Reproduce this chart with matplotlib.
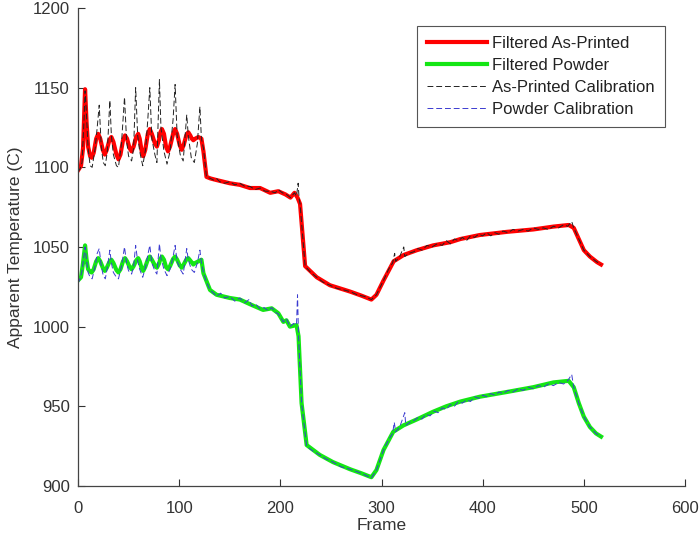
import matplotlib
matplotlib.use("Agg")
import matplotlib.pyplot as plt

# filtered as-printed (frame, temperature)
red_frames = [0, 3, 5, 7, 8.5, 10, 12, 13.5, 15.5, 18, 20, 22, 24.5, 26.5, 28.5, 31, 33, 35, 38,
              40, 42, 44.5, 46.5, 48.5, 51, 53, 55, 57.5, 59.5, 61, 63, 64.5, 66.5, 69, 71, 73,
              76, 78, 80, 81.5, 83, 85, 87, 89, 91, 94, 96, 98, 100.5, 102.5, 104.5, 107, 109,
              111, 112.5, 114, 116, 119, 122, 124, 127, 131, 137, 150, 160, 170, 180, 190, 198,
              205, 210, 214, 217, 219.5, 224.5, 236, 249, 269, 280, 290, 295, 302, 312, 322, 335,
              351, 368, 378, 397, 424, 450, 470, 485, 490, 495, 500, 506, 513, 517]
red_temps = [1098, 1101, 1112, 1149, 1128, 1113, 1107, 1106, 1109, 1118, 1121, 1118, 1111, 1108,
             1111, 1117, 1119, 1116, 1108, 1105, 1108, 1117, 1120, 1118, 1112, 1110, 1113, 1119,
             1121, 1118, 1110, 1107, 1111, 1121, 1124, 1121, 1115, 1113, 1117, 1122, 1124, 1121,
             1113, 1110, 1113, 1121, 1124, 1121, 1114, 1111, 1114, 1120, 1122, 1120, 1118, 1117,
             1118, 1119, 1118, 1110, 1094, 1093, 1092, 1090, 1089, 1087, 1087, 1084, 1085, 1083,
             1081, 1084, 1081, 1077, 1038, 1031, 1026, 1022, 1019.5, 1017, 1020, 1029, 1041,
             1045, 1048, 1051, 1053, 1055, 1057.5, 1059.5, 1061, 1062.8, 1063.8, 1062, 1055,
             1048, 1044, 1040.5, 1039]

# filtered powder
green_frames = [0, 3, 5, 7, 8.5, 10, 12, 13.5, 15.5, 18, 20, 22, 24.5, 26.5, 28.5, 31, 33, 35, 38,
                40, 42, 44.5, 46.5, 48.5, 51, 53, 55, 57.5, 59.5, 61, 63, 64.5, 66.5, 69, 71, 73,
                76, 78, 80, 81.5, 83, 85, 87, 89, 91, 94, 96, 98, 100.5, 102.5, 104.5, 107, 109,
                111, 114, 116, 119, 122, 124, 130.5, 137, 150, 160, 171.7, 183, 191.5, 198, 203,
                206, 209.5, 216, 218, 221, 226, 239, 252, 269, 280, 290, 295, 302, 311.6, 321.6,
                335, 351, 364, 378, 397, 424, 450, 470, 485, 490, 495, 500, 506, 512, 517]
green_temps = [1029, 1031, 1040, 1051, 1042, 1036, 1034.5, 1034, 1036, 1041, 1043, 1041, 1037, 1035,
               1037, 1040.5, 1042, 1040, 1035.5, 1034, 1036, 1041, 1043, 1041, 1037.5, 1036, 1038,
               1041.5, 1043, 1041, 1036.5, 1035, 1037.5, 1042, 1044, 1042, 1038.5, 1037, 1039.5,
               1042.5, 1044, 1042, 1037.5, 1036, 1038, 1042.5, 1044, 1042, 1038.5, 1037, 1039,
               1042, 1043, 1041.5, 1039, 1040, 1041, 1042, 1033.5, 1023, 1020, 1018, 1017, 1013.6,
               1010.5, 1011.5, 1008.4, 1003, 1004, 1000, 1001, 994, 952, 925.7, 919.5, 915, 910.5,
               908, 905.5, 910, 922.6, 934, 938, 941.8, 946.6, 950, 953, 956, 959, 962, 965, 966,
               962, 952, 943.5, 937, 933, 931]

# as-printed calibration
black_frames = [0, 2, 4, 6, 7, 8, 10, 12, 14, 17, 19, 21, 23, 25, 27, 29, 31.5, 33, 35, 38, 40, 43,
                46, 48, 50, 53, 55, 57, 59, 61, 64, 67, 69, 71, 73, 76, 78, 80.5, 82, 85, 88, 91,
                94, 96, 98, 101, 104, 107.5, 109, 112, 115, 118, 120.5, 122, 124, 127, 131, 134,
                137, 140, 145, 150, 155, 160, 165, 170, 175, 180, 185, 190, 195, 198, 202, 206,
                210, 214, 216, 217.6, 218.5, 219.5, 224.5, 230, 236, 242, 249, 256, 263, 269, 276,
                283, 290, 295, 302, 307, 311, 313, 314, 318, 322, 323, 327, 332, 336, 340, 345,
                350, 355, 360, 364, 368, 372, 376, 380, 384, 388, 392, 396, 400, 404, 408, 412,
                416, 420, 425, 430, 435, 440, 445, 450, 455, 460, 465, 470, 475, 480, 484, 488,
                490, 495, 500, 506, 512, 517]
black_temps = [1097, 1099, 1103, 1130, 1148, 1138, 1112, 1101, 1100, 1112, 1125, 1139, 1113, 1103,
               1101, 1110, 1142, 1120, 1108, 1101, 1100, 1115, 1144, 1117, 1107, 1104, 1112, 1150,
               1120, 1110, 1101, 1112, 1130, 1150, 1118, 1108, 1103, 1155, 1125, 1110, 1102, 1110,
               1130, 1152, 1120, 1108, 1104, 1133, 1120, 1106, 1103, 1115, 1138, 1118, 1112, 1094,
               1093, 1092, 1093, 1091, 1090, 1091, 1089, 1090, 1088, 1088, 1086, 1087, 1085, 1085,
               1084, 1086, 1084, 1083, 1081, 1084, 1082, 1090, 1081, 1077, 1038, 1034, 1031, 1028,
               1026, 1024, 1023, 1022, 1020, 1019, 1017, 1020, 1029, 1036, 1040, 1046, 1041, 1044,
               1050, 1044, 1046, 1047, 1049, 1048, 1051, 1050, 1052, 1051, 1054, 1052, 1055, 1054,
               1056, 1054, 1057, 1056, 1058, 1057, 1059, 1057, 1059, 1058, 1060, 1059, 1061, 1060,
               1061, 1060, 1062, 1061, 1062, 1061, 1063, 1062, 1064, 1063, 1066, 1062, 1055, 1048,
               1044, 1041, 1039]

# powder calibration
blue_frames = [0, 2, 4, 6, 7, 8, 10, 12, 14, 17, 19, 21, 23, 25, 27, 29, 31.5, 33, 35, 38, 40, 43,
               46, 48, 50, 53, 55, 57, 59, 61, 64, 67, 69, 71, 73, 76, 78, 80.5, 82, 85, 88, 91,
               94, 96, 98, 101, 104, 107.5, 109, 112, 115, 118, 120.5, 122, 124, 127, 130.5, 134,
               137, 141, 145, 150, 155, 160, 165, 169, 172, 176, 180, 184, 188, 191.5, 195, 198,
               201, 203, 206, 209.5, 213, 216, 217, 218, 221, 226, 232, 239, 245, 252, 260, 269,
               280, 290, 295, 302, 307, 311, 312.6, 314, 318, 323, 324, 328, 332, 336, 340, 344,
               348, 352, 356, 360, 364, 368, 372, 376, 380, 384, 388, 392, 396, 400, 404, 408,
               412, 416, 420, 425, 430, 435, 440, 445, 450, 455, 460, 465, 470, 475, 480, 484,
               488, 490, 495, 500, 506, 512, 517]
blue_temps = [1027, 1030, 1035, 1045, 1050, 1044, 1034, 1031, 1030, 1038, 1046, 1049, 1038, 1032,
              1030, 1037, 1048, 1040, 1034, 1031, 1030, 1038, 1050, 1040, 1035, 1033, 1038, 1051,
              1041, 1036, 1031, 1038, 1045, 1051, 1040, 1035, 1033, 1052, 1043, 1036, 1032, 1036,
              1044, 1051, 1041, 1036, 1033, 1049, 1042, 1036, 1034, 1040, 1048, 1040, 1034, 1028,
              1023, 1021, 1019, 1021, 1018, 1019, 1016, 1018, 1015, 1017, 1013, 1014, 1011, 1012,
              1010, 1012, 1009, 1008, 1005, 1003, 1005, 1000, 1002, 1001, 1020, 994, 952, 925, 922,
              919.5, 917, 915, 912, 910.5, 908, 905, 910, 922.6, 929, 933, 940, 934, 937, 946, 938,
              940, 941, 943, 942, 945, 944, 947, 946, 949, 948, 951, 950, 953, 952, 954, 953, 956,
              955, 957, 956, 958, 957, 959, 958, 960, 959, 961, 960, 962, 961, 963, 962, 964, 963,
              965, 964, 966, 970, 962, 952, 943.5, 937, 933, 931]

x_ticks = [0, 100, 200, 300, 400, 500, 600]
y_ticks = [900, 950, 1000, 1050, 1100, 1150, 1200]

plt.rcParams.update({
    "font.family": ["Liberation Sans", "DejaVu Sans"],
    "axes.spines.top": False,
    "axes.spines.right": False,
    "xtick.direction": "in",
    "ytick.direction": "in",
})

fig = plt.figure(figsize=(7.0, 5.43), dpi=100)
ax = fig.add_axes([0.1114, 0.105, 0.8672, 0.8803])

ax.plot(red_frames, red_temps, color="#ff0000", linewidth=3.0, label="Filtered As-Printed",
        solid_joinstyle="round")
ax.plot(green_frames, green_temps, color="#14e614", linewidth=3.0, label="Filtered Powder",
        solid_joinstyle="round")
ax.plot(black_frames, black_temps, color="#222222", linewidth=0.7, linestyle=(0, (6, 3)),
        label="As-Printed Calibration")
ax.plot(blue_frames, blue_temps, color="#3b3bd0", linewidth=0.7, linestyle=(0, (6, 3)),
        label="Powder Calibration")

ax.set_xlim(0, 600)
ax.set_ylim(900, 1200)
ax.set_xticks(x_ticks)
ax.set_yticks(y_ticks)
ax.tick_params(axis="both", labelsize=12, colors="#333333", length=5, width=0.8, pad=6)
ax.tick_params(axis="x", pad=11)
for side in ("left", "bottom"):
    ax.spines[side].set_color("#444444")
    ax.spines[side].set_linewidth(0.9)

ax.set_xlabel("Frame", fontsize=12.5, color="#333333", labelpad=1)
ax.set_ylabel("Apparent Temperature (C)", fontsize=12.5, color="#333333", labelpad=7)

leg = ax.legend(loc="upper right", bbox_to_anchor=(0.967, 0.962), fontsize=12,
                handlelength=3.6, fancybox=False, framealpha=1, edgecolor="#555555",
                borderpad=0.6, labelspacing=0.42, handletextpad=0.35, borderaxespad=0)
leg.get_frame().set_linewidth(0.8)
for text in leg.get_texts():
    text.set_color("#222222")

fig.savefig("out.png", dpi=100)
